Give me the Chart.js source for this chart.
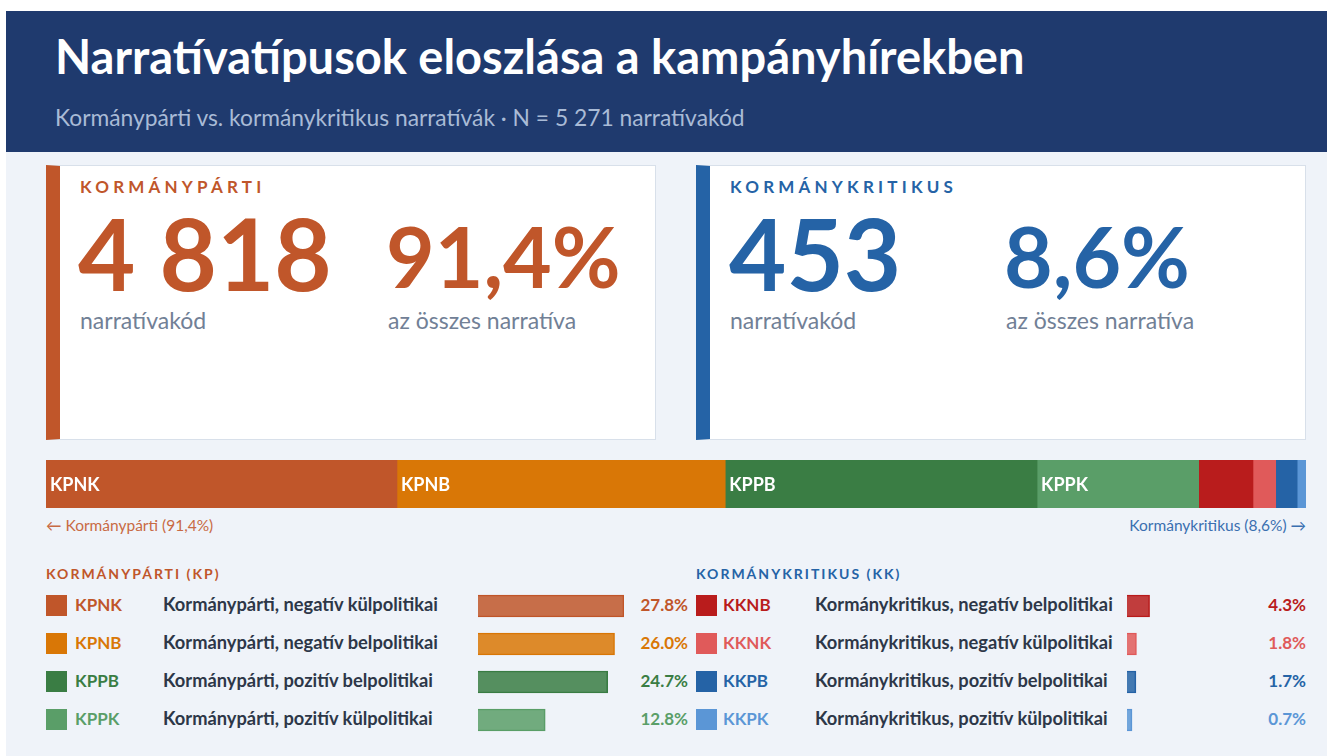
<!DOCTYPE html>
<html lang="hu">
<head>
<meta charset="utf-8">
<script src="https://cdn.jsdelivr.net/npm/chart.js@4"></script>
<style>
  html, body { margin: 0; padding: 0; background: #fff; }
  body { width: 1333px; height: 756px; position: relative; overflow: hidden; font-family: Lato, 'Noto Sans', sans-serif; }
  .abs { position: absolute; white-space: nowrap; }
  #page { position: absolute; left: 6px; top: 11px; width: 1321px; height: 745px; background: #eff3f9; }
  #header { position: absolute; left: 6px; top: 11px; width: 1321px; height: 141px; background: #1f3a6e; }
  .title { left: 55px; top: 28px; font-size: 47px; font-weight: 700; color: #fff; }
  .subtitle { left: 55px; top: 103px; font-size: 22.8px; color: #a9bbd6; }
  .card { position: absolute; top: 165px; width: 595px; height: 273px; background: #fff; border: 1px solid #d8e0ea; border-left: 14px solid; }
  .cardLabel { top: 177px; font-size: 17px; font-weight: 700; letter-spacing: 4.2px; line-height: 20px; }
  .big { top: 215px; font-size: 99px; font-weight: 700; line-height: 75px; }
  .pct { top: 223px; font-size: 84px; font-weight: 700; line-height: 66px; }
  .sub { top: 308px; font-size: 23px; color: #718096; line-height: 24px; }
  .cap { top: 516px; font-size: 15.5px; }
  .secHead { top: 565px; font-size: 14px; font-weight: 700; letter-spacing: 2px; }
  .sw { position: absolute; width: 21px; height: 21px; }
  .code { font-size: 17px; font-weight: 700; }
  .desc { font-size: 18.3px; font-weight: 700; color: #2d3748; }
  .val { font-size: 17px; font-weight: 700; text-align: right; }
</style>
</head>
<body>
<div id="page"></div>
<div id="header"></div>
<div class="abs title">Narratívatípusok eloszlása a kampányhírekben</div>
<div class="abs subtitle">Kormánypárti vs. kormánykritikus narratívák · N = 5 271 narratívakód</div>

<div class="card" style="left:46px;border-left-color:#c0562a"></div>
<div class="card" style="left:696px;border-left-color:#2563a6"></div>

<div class="abs cardLabel" style="left:80px;color:#c0562a">KORMÁNYPÁRTI</div>
<div class="abs big" id="kpCount" style="left:78px;color:#c0562a"></div>
<div class="abs pct" id="kpPct" style="left:386px;color:#c0562a"></div>
<div class="abs sub" style="left:80px">narratívakód</div>
<div class="abs sub" style="left:388px">az összes narratíva</div>

<div class="abs cardLabel" style="left:730px;color:#2563a6">KORMÁNYKRITIKUS</div>
<div class="abs big" id="kkCount" style="left:729px;color:#2563a6"></div>
<div class="abs pct" id="kkPct" style="left:1004px;color:#2563a6"></div>
<div class="abs sub" style="left:730px">narratívakód</div>
<div class="abs sub" style="left:1006px">az összes narratíva</div>

<div class="abs" style="left:46px;top:460px;width:1260px;height:48px"><canvas id="stackChart"></canvas></div>

<div class="abs cap" id="capKp" style="left:46px;color:#c86a44"></div>
<div class="abs cap" id="capKk" style="right:27px;color:#3a6fb0"></div>

<div class="abs secHead" style="left:46px;color:#c0562a">KORMÁNYPÁRTI (KP)</div>
<div class="abs secHead" style="left:696px;color:#2563a6">KORMÁNYKRITIKUS (KK)</div>

<div id="kpRows"></div>
<div id="kkRows"></div>

<div class="abs" style="left:478px;top:587px;width:146px;height:152px"><canvas id="kpBars"></canvas></div>
<div class="abs" style="left:1127px;top:587px;width:146px;height:152px"><canvas id="kkBars"></canvas></div>

<script>
const totalN = 5271
const kpCount = 4818
const kkCount = 453

const kpCodes = ['KPNK', 'KPNB', 'KPPB', 'KPPK']
const kpLabels = [
  'Kormánypárti, negatív külpolitikai',
  'Kormánypárti, negatív belpolitikai',
  'Kormánypárti, pozitív belpolitikai',
  'Kormánypárti, pozitív külpolitikai',
]
const kpShares = [27.8, 26.0, 24.7, 12.8]
const kpColors = ['#c0562a', '#d97706', '#3a7d44', '#5a9e68']

const kkCodes = ['KKNB', 'KKNK', 'KKPB', 'KKPK']
const kkLabels = [
  'Kormánykritikus, negatív belpolitikai',
  'Kormánykritikus, negatív külpolitikai',
  'Kormánykritikus, pozitív belpolitikai',
  'Kormánykritikus, pozitív külpolitikai',
]
const kkShares = [4.3, 1.8, 1.7, 0.7]
const kkColors = ['#b91c1c', '#e05a5a', '#2563a6', '#5b96d6']

const huNum = (n) => String(n).replace(/\B(?=(\d{3})+(?!\d))/g, ' ')
const huPct = (count) => `${(count / totalN * 100).toFixed(1).replace('.', ',')}%`

document.getElementById('kpCount').textContent = huNum(kpCount)
document.getElementById('kkCount').textContent = huNum(kkCount)
document.getElementById('kpPct').textContent = huPct(kpCount)
document.getElementById('kkPct').textContent = huPct(kkCount)
document.getElementById('capKp').textContent = `← Kormánypárti (${huPct(kpCount)})`
document.getElementById('capKk').textContent = `Kormánykritikus (${huPct(kkCount)}) →`

const rowTop = 595
const rowStep = 38
const buildRows = (el, codes, labels, shares, colors, x) => {
  el.innerHTML = codes.map((code, i) => {
    const y = rowTop + i * rowStep
    return `<div class="sw" style="left:${x.sw}px;top:${y}px;background:${colors[i]}"></div>`
      + `<div class="abs code" style="left:${x.code}px;top:${y - 1}px;color:${colors[i]}">${code}</div>`
      + `<div class="abs desc" style="left:${x.desc}px;top:${y - 2}px">${labels[i]}</div>`
      + `<div class="abs val" style="right:${x.valRight}px;top:${y - 1}px;color:${colors[i]}">${shares[i].toFixed(1)}%</div>`
  }).join('')
}
buildRows(document.getElementById('kpRows'), kpCodes, kpLabels, kpShares, kpColors,
  { sw: 46, code: 75, desc: 163, valRight: 645 })
buildRows(document.getElementById('kkRows'), kkCodes, kkLabels, kkShares, kkColors,
  { sw: 696, code: 723, desc: 815, valRight: 27 })

const allCodes = [...kpCodes, ...kkCodes]
const allShares = [...kpShares, ...kkShares]
const allColors = [...kpColors, ...kkColors]

const segmentLabels = {
  id: 'segmentLabels',
  afterDatasetsDraw(chart) {
    const { ctx } = chart
    ctx.save()
    ctx.font = 'bold 18px Lato, sans-serif'
    ctx.fillStyle = '#fff'
    ctx.textBaseline = 'middle'
    chart.data.datasets.forEach((ds, i) => {
      const bar = chart.getDatasetMeta(i).data[0]
      if (bar.x - bar.base > 60) ctx.fillText(ds.label, bar.base + 4, bar.y + 1)
    })
    ctx.restore()
  },
}

const hiddenScales = (max, stacked) => ({
  x: { display: false, min: 0, max, stacked },
  y: { display: false, stacked },
})

new Chart(document.getElementById('stackChart'), {
  type: 'bar',
  data: {
    labels: ['Összes'],
    datasets: allCodes.map((code, i) => ({
      label: code,
      data: [allShares[i]],
      backgroundColor: allColors[i],
      barPercentage: 1,
      categoryPercentage: 1,
    })),
  },
  options: {
    indexAxis: 'y',
    responsive: true,
    maintainAspectRatio: false,
    animation: false,
    layout: { padding: 0 },
    scales: hiddenScales(allShares.reduce((a, b) => a + b, 0), true),
    plugins: { legend: { display: false }, tooltip: { enabled: false } },
  },
  plugins: [segmentLabels],
})

const maxShare = Math.max(...allShares)
const alpha = (hex) => `${hex}d9`
const smallBars = (id, codes, shares, colors) => new Chart(document.getElementById(id), {
  type: 'bar',
  data: {
    labels: codes,
    datasets: [{
      data: shares,
      backgroundColor: colors.map(alpha),
      borderColor: colors,
      borderWidth: 1,
      barThickness: 22,
      minBarLength: 5,
    }],
  },
  options: {
    indexAxis: 'y',
    responsive: true,
    maintainAspectRatio: false,
    animation: false,
    layout: { padding: 0 },
    scales: hiddenScales(maxShare, false),
    plugins: { legend: { display: false }, tooltip: { enabled: false } },
  },
})
smallBars('kpBars', kpCodes, kpShares, kpColors)
smallBars('kkBars', kkCodes, kkShares, kkColors)
</script>
</body>
</html>
